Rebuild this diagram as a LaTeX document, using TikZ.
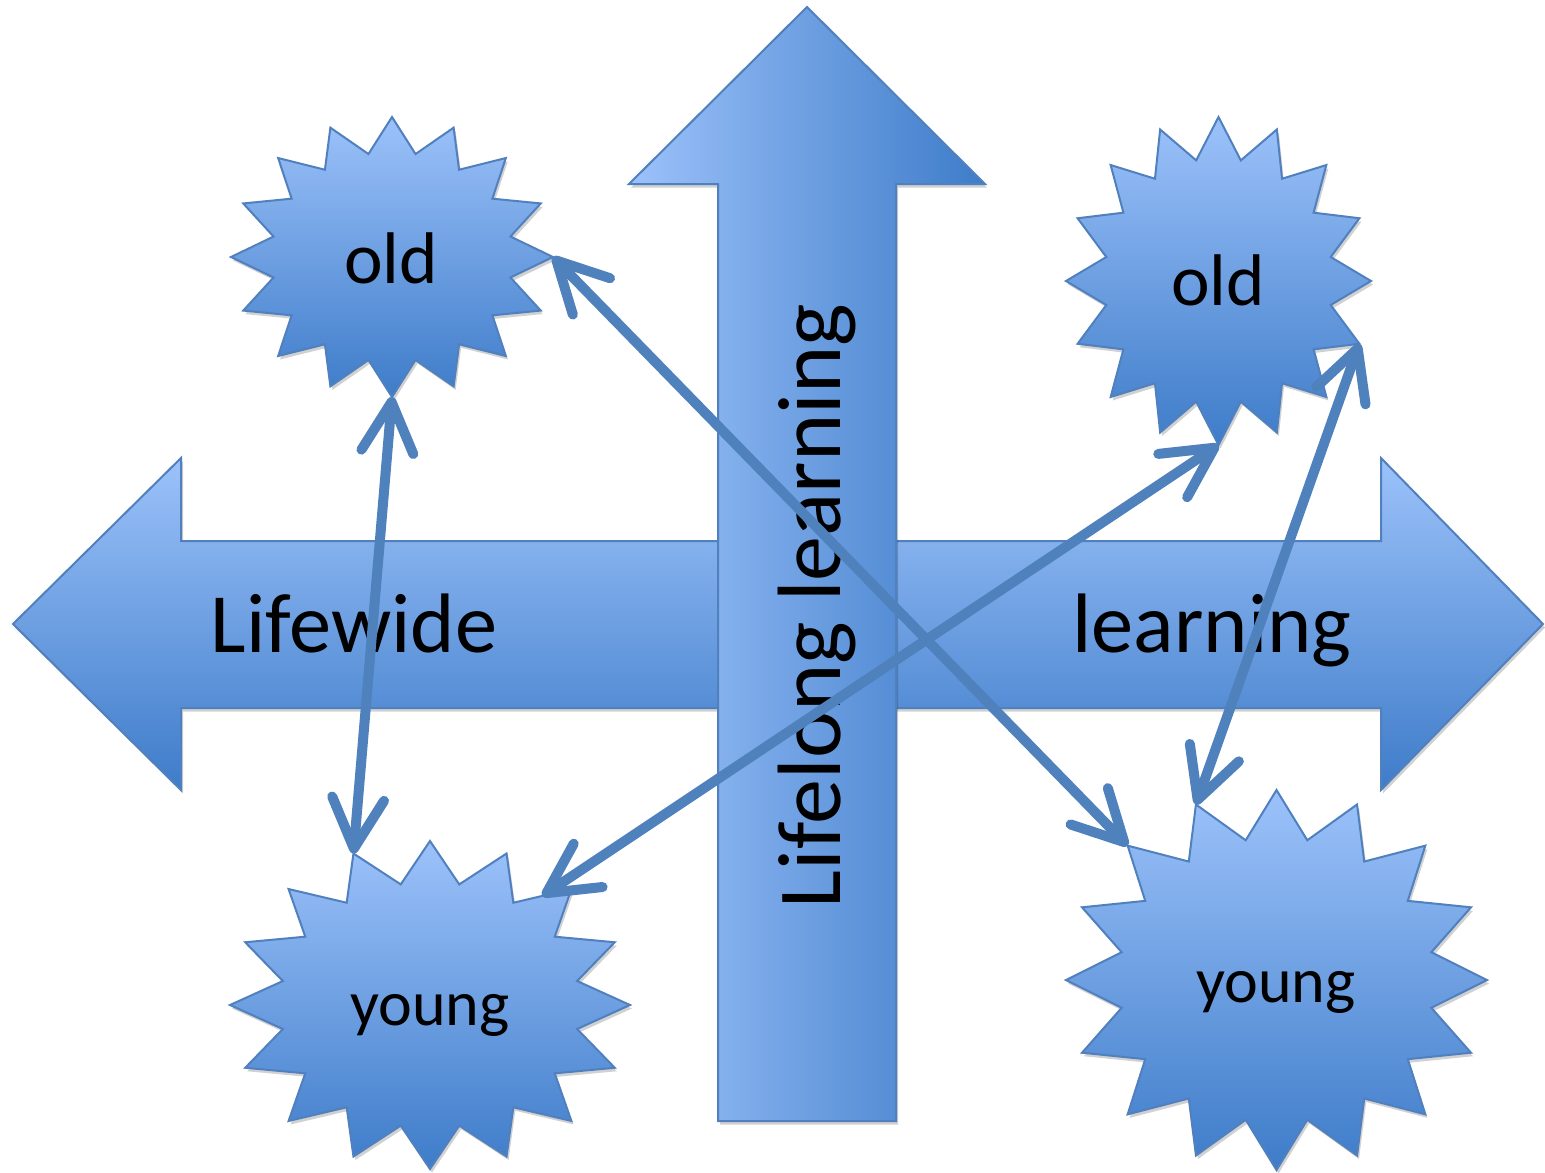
\documentclass[tikz,border=0pt]{standalone}
\usepackage{fontspec}
\setmainfont{Carlito}
\usetikzlibrary{arrows.meta,calc}

\definecolor{lite}{RGB}{156,194,250}
\definecolor{deep}{RGB}{62,124,201}
\definecolor{rim}{RGB}{80,128,190}
\definecolor{linkblue}{RGB}{79,129,189}

\tikzset{
  softshadow/.style={preaction={fill=black,opacity=0.18,
      transform canvas={xshift=0.02cm,yshift=-0.035cm}}},
  vshape/.style={softshadow,draw=rim,line width=0.02cm,top color=lite,bottom color=deep},
  hshape/.style={softshadow,draw=rim,line width=0.02cm,left color=lite,right color=deep},
  bigtext/.style={font=\fontsize{24pt}{28pt}\selectfont,text=black,anchor=base,inner sep=0pt},
  uptext/.style={font=\fontsize{25.6pt}{29pt}\selectfont,text=black,anchor=base,inner sep=0pt},
  oldtext/.style={font=\fontsize{20.8pt}{24pt}\selectfont,text=black,anchor=base,inner sep=0pt},
  youngtext/.style={font=\fontsize{18.2pt}{22pt}\selectfont,text=black,anchor=base,inner sep=0pt},
  link/.style={draw=linkblue,line width=0.1cm,line cap=round,
      {Straight Barb[length=0.5cm,width=0.52cm,round]}-{Straight Barb[length=0.5cm,width=0.52cm,round]}}
}

% 16-point burst: name, centre x, centre y, radius x, radius y
\newcommand\burstshape[5]{%
  \foreach \k in {0,...,15}{%
    \coordinate (#1-o\k) at ({#2+#4*cos(\k*22.5)},{#3-#5*sin(\k*22.5)});
    \coordinate (#1-i\k) at ({#2+0.75*#4*cos(\k*22.5+11.25)},{#3-0.75*#5*sin(\k*22.5+11.25)});
  }
  \shadedraw[vshape] (#1-o0) \foreach \k in {0,...,15}{ -- (#1-o\k) -- (#1-i\k) } -- cycle;
}

\begin{document}
\begin{tikzpicture}[x=0.01cm,y=-0.01cm]
  \useasboundingbox[fill=white] (0,0) rectangle (1545,1172);

  % horizontal double arrow
  \shadedraw[vshape] (13,624) -- (181,458) -- (181,541) -- (1381,541) -- (1381,458)
      -- (1543,624) -- (1381,790) -- (1381,708) -- (181,708) -- (181,790) -- cycle;

  % vertical arrow
  \shadedraw[hshape] (807,7) -- (985,184) -- (896,184) -- (896,1121) -- (718,1121)
      -- (718,184) -- (629,184) -- cycle;

  \node[bigtext] (lifewide) at (354,652) {Lifewide};
  \node[bigtext] (learning) at (1212,652) {learning};
  \node[uptext,rotate=90] (lifelong) at (840,606) {Lifelong learning};

  % bursts
  \burstshape{oldL}{392}{257}{161}{140}
  \burstshape{oldR}{1218.5}{281}{152.5}{164}
  \burstshape{youngL}{430}{1005}{200}{164}
  \burstshape{youngR}{1276.5}{980}{210.5}{190}

  \node[oldtext] (oldLtxt) at (391,283) {old};
  \node[oldtext] (oldRtxt) at (1218,305) {old};
  \node[youngtext] (youngLtxt) at (430,1025) {young};
  \node[youngtext] (youngRtxt) at (1276,1002) {young};

  % connectors
  \coordinate (youngL-edge) at ($(youngL-i2)!0.5!(youngL-o2)$);
  \draw[link] (oldL-o12) -- (youngL-o5);
  \draw[link] (oldL-o0) -- (youngR-o6);
  \draw[link] (youngL-edge) -- (oldR-o12);
  \draw[link] (oldR-o15) -- (youngR-o5);
\end{tikzpicture}
\end{document}
